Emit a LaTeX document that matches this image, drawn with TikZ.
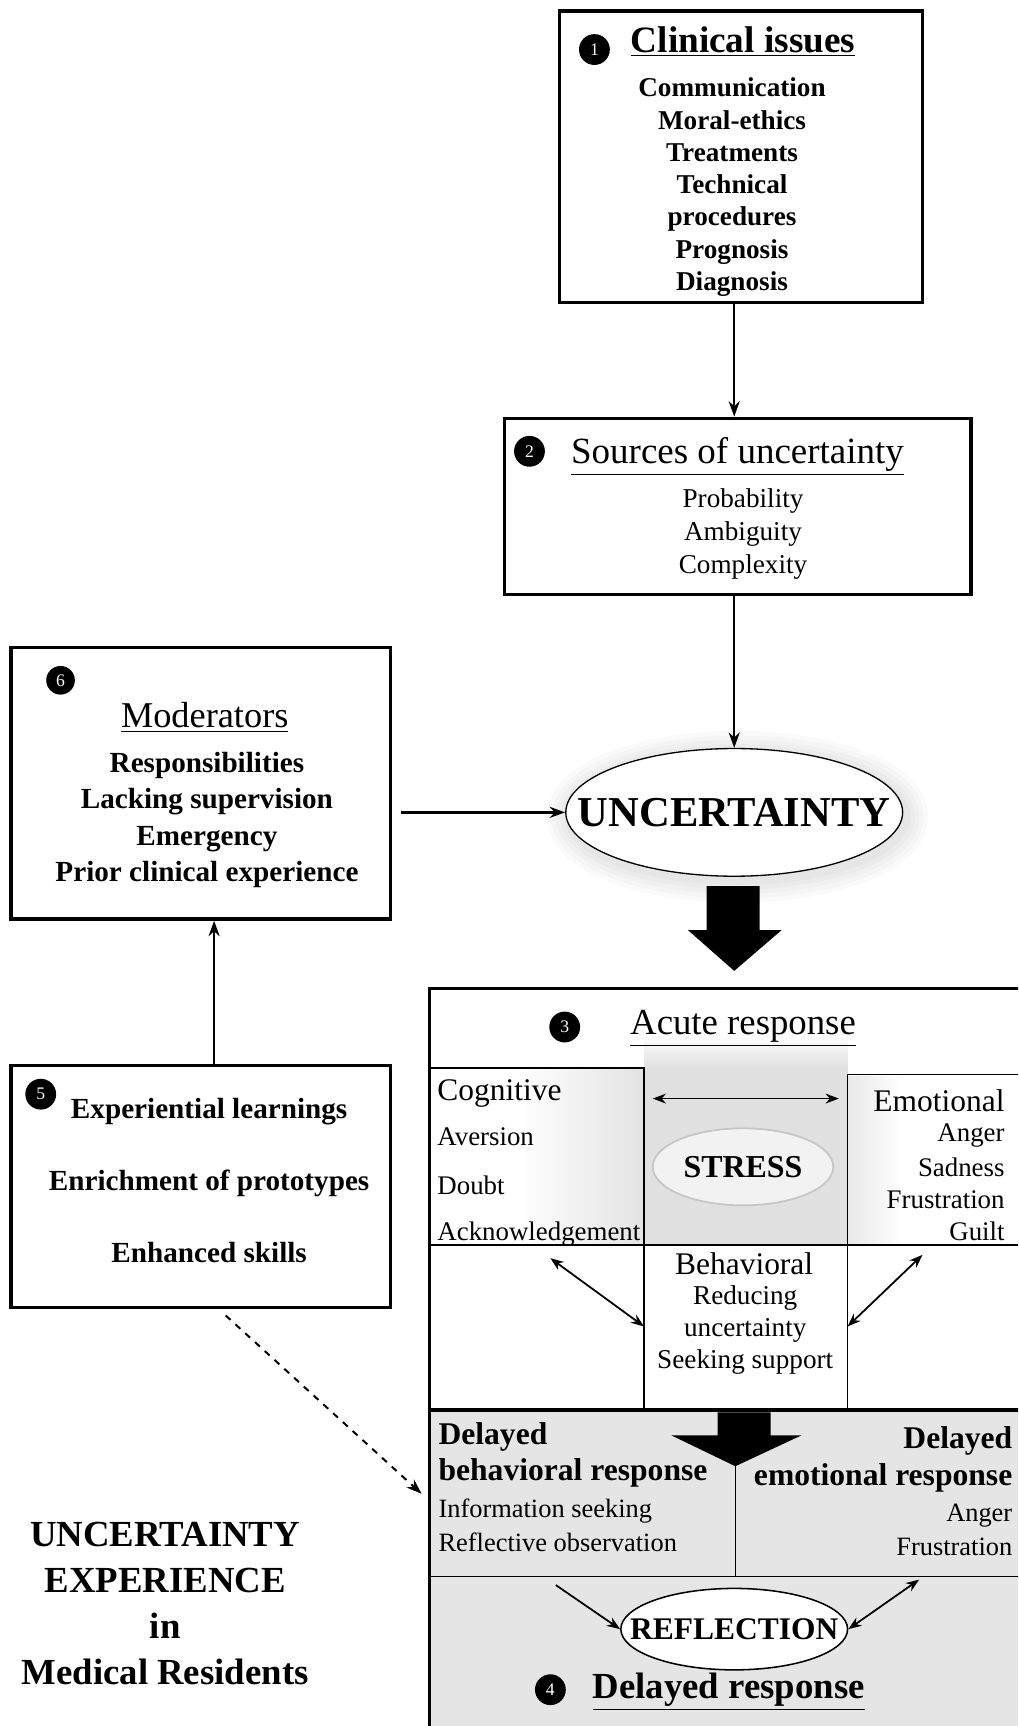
\documentclass[tikz,border=0pt]{standalone}
\usepackage{fontspec}
\setmainfont{Liberation Serif}
\usetikzlibrary{arrows.meta,shapes.geometric,fit,calc}
\newcommand{\fsz}[2]{\fontsize{#1pt}{#2pt}\selectfont}
\begin{document}
\begin{tikzpicture}[x=0.5pt,y=-0.5pt,
  box/.style={draw, line width=1.5pt, inner sep=0pt},
  thinln/.style={line width=0.7pt},
  arr/.style={line width=1.1pt, -{Stealth[length=7pt,width=5pt]}},
  arrboth/.style={line width=0.8pt, {Stealth[length=6pt,width=4.5pt]}-{Stealth[length=6pt,width=4.5pt]}},
  arrone/.style={line width=0.8pt, -{Stealth[length=6pt,width=4.5pt]}},
  numc/.style={circle, fill=black, text=white, inner sep=0pt, minimum size=14pt, font=\fsz{8}{8}},
  txt/.style={inner sep=0pt, align=center},
  itemb/.style={txt, font=\bfseries\fsz{12.35}{14.65}},
  itemr/.style={txt, font=\fsz{12.35}{15}},
  big/.style={txt, font=\fsz{16.8}{20}},
  mid/.style={inner sep=0pt, font=\fsz{14.3}{17}},
  small/.style={inner sep=0pt, font=\fsz{12.2}{14}},
  oval/.style={ellipse, inner sep=0pt}
]
\useasboundingbox (0,0) rectangle (925,1568);
\fill[white] (0,0) rectangle (925,1568);
\clip (0,0) rectangle (925,1568);

% ---------- Box 1 ----------
\node[box, fit={(508,10)(838,275)}] (box1) {};
\node[numc] (n1) at (540,45) {1};
\node[big, font=\bfseries\fsz{16.9}{20}] (t1) at (675,38) {\underline{Clinical issues}};
\node[itemb] (l1) at (665,170) {Communication\\Moral-ethics\\Treatments\\Technical\\procedures\\Prognosis\\Diagnosis};

% ---------- Box 2 ----------
\node[box, fit={(458,380)(882,540)}] (box2) {};
\node[numc] (n2) at (481,410) {2};
\node[big] (t2) at (670,415) {\underline{Sources of uncertainty}};
\node[itemr] (l2) at (675,485) {Probability\\Ambiguity\\Complexity};

% ---------- Uncertainty ellipse ----------
\foreach \w in {4,8,12,16,20}
  \draw[black, opacity=0.018, line width=\w pt] (670,742) ellipse [x radius=76.5pt, y radius=29pt];
\node[oval, draw, fill=white, line width=0.6pt, minimum width=153pt, minimum height=58pt] (unc) at (667,738) {};
\node[txt, font=\bfseries\fsz{19.35}{22}] (unct) at (unc) {UNCERTAINTY};

% ---------- Box 6 ----------
\node[box, fit={(10,588)(355,835)}] (box6) {};
\node[numc, minimum size=13pt] (n6) at (55,618) {6};
\node[big, font=\fsz{16.5}{20}] (t6) at (186,652) {\underline{Moderators}};
\node[txt, font=\bfseries\fsz{13.25}{16.5}] (l6) at (188,745) {Responsibilities\\Lacking supervision\\Emergency\\Prior clinical experience};

% ---------- Box 5 ----------
\node[box, fit={(10,968)(355,1188)}] (box5) {};
\node[numc] (n5) at (37,994) {5};
\node[txt, font=\bfseries\fsz{13.25}{16}] (e1) at (190,1010) {Experiential learnings};
\node[txt, font=\bfseries\fsz{13.25}{16}] (e2) at (190,1075) {Enrichment of prototypes};
\node[txt, font=\bfseries\fsz{13.25}{16}] (e3) at (190,1138) {Enhanced skills};

% ---------- Box 3 / 4 background ----------
\fill[gray!20] (390,1281) rectangle (935,1580);
\shade[top color=white, bottom color=gray!24] (585,940) rectangle (770,970);
\fill[gray!24] (585,970) rectangle (770,1131);
\shade[left color=white, right color=gray!22] (470,972) rectangle (585,1131);
\shade[left color=gray!18, right color=white] (770,978) rectangle (820,1131);
\node[box, fit={(390,898)(935,1580)}] (box3) {};

% inner lines
\draw[thinln] (390,970) -- (585,970) -- (585,1281);
\draw[thinln] (770,1281) -- (770,976) -- (935,976);
\draw[thinln] (390,1131) -- (935,1131);
\draw[line width=1.5pt] (390,1281) -- (935,1281);
\draw[thinln] (390,1432) -- (935,1432);
\draw[thinln] (668,1330) -- (668,1432);

% big block arrows
\fill[black] (642,805) -- (690,805) -- (690,845) -- (710,845) -- (667,882) -- (625,845) -- (642,845) -- cycle;
\fill[black] (652,1283) -- (700,1283) -- (700,1304) -- (728,1304) -- (668,1332) -- (610,1304) -- (652,1304) -- cycle;

% Acute response
\node[numc] (n3) at (513,933) {3};
\node[big, font=\fsz{16.7}{20}] (t3) at (675,934) {\underline{Acute response}};

\node[mid, anchor=west] (cog) at (397,993) {Cognitive};
\node[small, anchor=west] (c1) at (397,1033) {Aversion};
\node[small, anchor=west] (c2) at (397,1077) {Doubt};
\node[small, anchor=west] (c3) at (397,1121) {Acknowledgement};

\node[mid, anchor=east] (emo) at (913,1000) {Emotional};
\node[small, anchor=east] (m1) at (913,1032) {Anger};
\node[small, anchor=east] (m2) at (913,1060) {Sadness};
\node[small, anchor=east] (m3) at (913,1090) {Frustration};
\node[small, anchor=east] (m4) at (913,1119) {Guilt};

\node[oval, draw=gray!45, fill=gray!10, line width=0.8pt, minimum width=82pt, minimum height=35pt] (stressE) at (675,1060) {};
\node[txt, font=\bfseries\fsz{14.5}{17}] (stress) at (stressE) {STRESS};

\node[mid] (beh) at (676,1148) {Behavioral};
\node[txt, font=\fsz{12.35}{14.6}] (b1) at (677,1208) {Reducing\\uncertainty\\Seeking support};

\coordinate (dl) at (593,998);
\coordinate (dr) at (762,998);
\draw[arrboth] (dl) -- (dr);
\coordinate (ca) at (500,1143);
\coordinate (cb) at (585,1205);
\draw[arrboth] (ca) -- (cb);
\coordinate (ea) at (838,1140);
\coordinate (eb) at (770,1205);
\draw[arrboth] (ea) -- (eb);

% Delayed response
\node[mid, font=\bfseries\fsz{14.35}{17}, anchor=west] (d1) at (398,1305) {Delayed};
\node[mid, font=\bfseries\fsz{14.35}{17}, anchor=west] (d2) at (398,1338) {behavioral response};
\node[small, font=\fsz{12}{14}, anchor=west] (d3) at (398,1373) {Information seeking};
\node[small, font=\fsz{12}{14}, anchor=west] (d4) at (398,1401) {Reflective observation};

\node[mid, font=\bfseries\fsz{14.35}{17}, anchor=east] (r1) at (920,1309) {Delayed};
\node[mid, font=\bfseries\fsz{14.35}{17}, anchor=east] (r2) at (920,1343) {emotional response};
\node[small, font=\fsz{12}{14}, anchor=east] (r3) at (920,1377) {Anger};
\node[small, font=\fsz{12}{14}, anchor=east] (r4) at (920,1405) {Frustration};

\node[oval, draw, fill=white, line width=0.7pt, minimum width=103pt, minimum height=37pt] (refl) at (667,1480) {};
\node[txt, font=\bfseries\fsz{14.3}{17}] (reflt) at (refl) {REFLECTION};

\coordinate (ra) at (505,1440);
\draw[arrone] (ra) -- (refl.west);
\coordinate (rb) at (835,1435);
\draw[arrboth] (rb) -- (refl.east);

\node[numc] (n4) at (500,1535) {4};
\node[big, font=\bfseries\fsz{16.7}{20}] (t4) at (662,1537) {\underline{Delayed response}};

% ---------- Connectors ----------
\draw[arr] (box1.south -| unc.north) -- (box2.north -| unc.north);
\draw[arr] (box2.south -| unc.north) -- (unc.north);
\draw[arr] ($(box6.east |- unc.west)+(8,0)$) -- (unc.west);
\draw[arr] ($(box5.north)+(12,0)$) -- ($(box6.south)+(12,0)$);
\coordinate (dA) at (205,1195);
\coordinate (dB) at (383,1357);
\draw[arr, dashed, line width=0.9pt] (dA) -- (dB);

% ---------- Title ----------
\node[txt, font=\bfseries\fsz{16.7}{20.85}] (title) at (150,1457) {UNCERTAINTY\\EXPERIENCE\\in\\Medical Residents};
\end{tikzpicture}
\end{document}
